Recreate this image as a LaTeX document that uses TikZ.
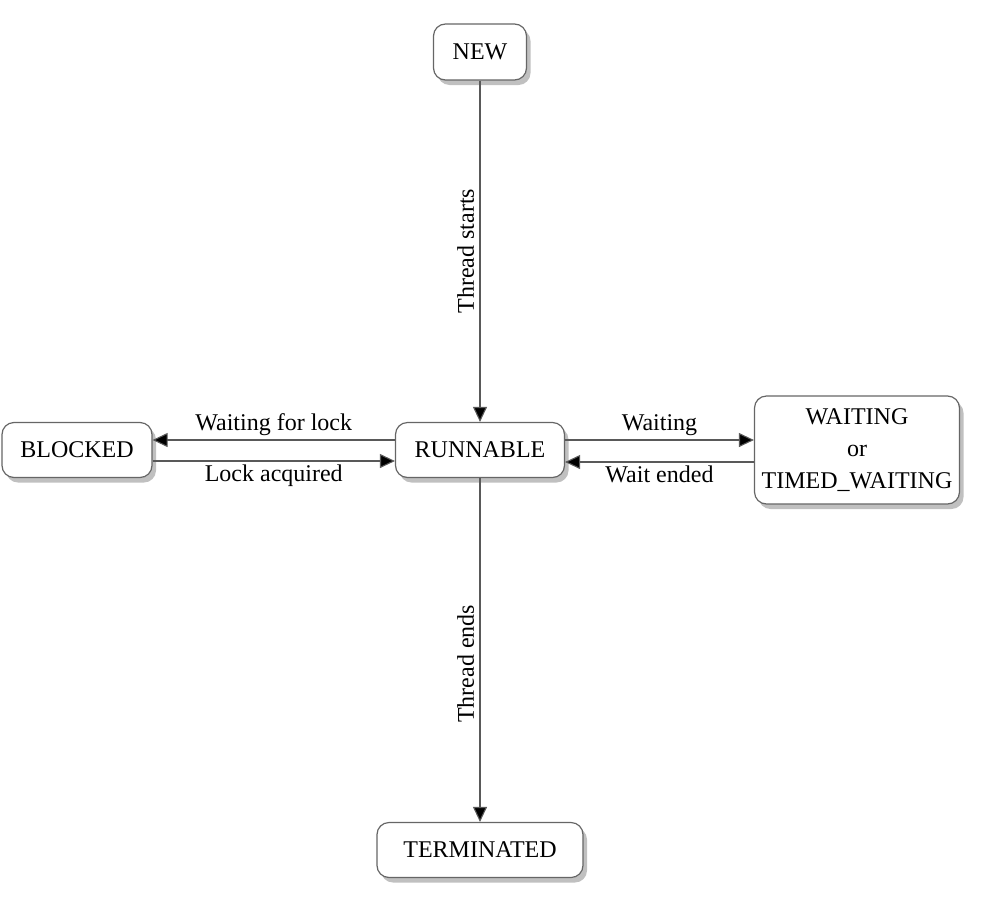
\documentclass[tikz,border=0pt]{standalone}
\usepackage{fontspec}
\setmainfont{Liberation Serif}
\usetikzlibrary{arrows.meta,shadows,calc}
\tikzset{
  state/.style={draw=black!60, line width=1.2pt, rounded corners=12pt, fill=white,
    minimum height=55pt, align=center, font=\fontsize{24}{28}\selectfont,
    drop shadow={shadow xshift=4pt, shadow yshift=-5pt, fill=black!55, opacity=0.45}},
  conn/.style={draw=black!65, line width=1.1pt, -{Triangle[length=15pt,width=14pt,fill=black]}},
  lbl/.style={font=\fontsize{24}{28}\selectfont, text=black}
}
\begin{document}
\begin{tikzpicture}[x=1pt,y=-1pt]
\useasboundingbox (0,0) rectangle (998,900);
\node[state, minimum width=93pt, minimum height=56pt] (new) at (480,52) {NEW};
\node[state, minimum width=169pt] (run) at (480,450) {RUNNABLE};
\node[state, minimum width=150pt] (blk) at (77,450) {BLOCKED};
\node[state, minimum width=205pt, minimum height=108pt] (wait) at (857,450) {WAITING\\[4pt]or\\[4pt]TIMED\_WAITING};
\node[state, minimum width=206pt] (term) at (480,850) {TERMINATED};

\draw[conn] (new.south) -- node[lbl, midway, rotate=90, anchor=south, yshift=2pt] {Thread starts} (run.north);
\draw[conn] (run.south) -- node[lbl, pos=0.54, rotate=90, anchor=south, yshift=2pt] {Thread ends} (term.north);

\draw[conn] ([yshift=10pt]run.east) -- node[lbl, midway, above, yshift=0pt] {Waiting} ([yshift=10pt]run.east -| wait.west);
\draw[conn] ([yshift=-12pt]wait.west) -- node[lbl, midway, below, yshift=0pt] {Wait ended} ([yshift=-12pt]wait.west -| run.east);

\draw[conn] ([yshift=10pt]run.west) -- node[lbl, midway, above, yshift=0pt] {Waiting for lock} ([yshift=10pt]run.west -| blk.east);
\draw[conn] ([yshift=-11pt]blk.east) -- node[lbl, midway, below, yshift=0pt] {Lock acquired} ([yshift=-11pt]blk.east -| run.west);
\end{tikzpicture}
\end{document}
